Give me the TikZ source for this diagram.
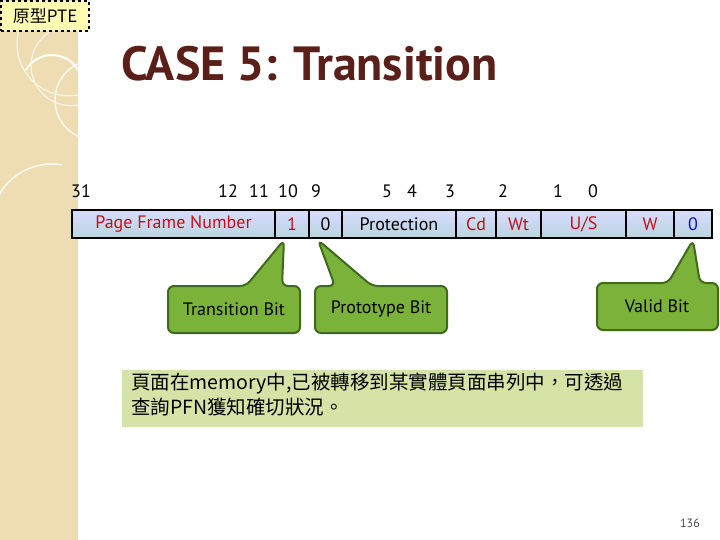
\documentclass[tikz,border=0pt]{standalone}
\usepackage{fontspec}
\setmainfont{PT Sans}
\newfontfamily\cjk{Noto Sans CJK TC}
\usetikzlibrary{shadings}
\definecolor{strip}{HTML}{EEDDB2}
\definecolor{titlec}{HTML}{5A1F18}
\definecolor{cellred}{HTML}{C0101A}
\definecolor{cellblue}{HTML}{1010C0}
\definecolor{gfill}{HTML}{7BB33A}
\definecolor{gdraw}{HTML}{3F6A1C}
\definecolor{note}{HTML}{D5E4A6}
\tikzset{
  cell/.style={draw=black,line width=1.2pt,top color=white!70!cyan!30!blue!20,bottom color=blue!25!cyan!35!gray!40,minimum height=28pt,inner sep=0pt,font=\fontsize{18}{20}\selectfont},
  call/.style={fill=gfill,draw=gdraw,line width=2pt,rounded corners=6pt},
  calltext/.style={font=\fontsize{18}{20}\selectfont,text=black},
  bitnum/.style={font=\fontsize{18}{20}\selectfont,anchor=base}
}
\begin{document}
\begin{tikzpicture}[x=1pt,y=-1pt]
\useasboundingbox (0,0) rectangle (720,540);
\fill[white] (0,0) rectangle (720,540);
\fill[strip] (0,0) rectangle (78,540);
\draw[white,line width=1.5pt,opacity=0.8] (95,100) circle (40);
\draw[white!85!strip,line width=1.5pt] (62,165) arc (-80:-200:60);
\draw[white,line width=2pt] (78,70) arc (-30:-150:30);
\draw[white!70!strip,line width=1.2pt] (78,105) arc (80:280:40);
\draw[white!70!strip,line width=1.2pt] (78,95) arc (80:280:52);
% top-left tag
\node[fill=yellow!30,draw=black,dashed,line width=2pt,minimum width=88pt,minimum height=30pt,inner sep=0pt,font=\cjk\fontsize{17}{18}\selectfont] (tag) at (45,16) {原型PTE};
% title
\node[anchor=west,font=\bfseries\fontsize{48}{52}\selectfont,text=titlec,inner sep=0pt] (title) at (121,64) {CASE 5: Transition};
% bit numbers
\node[bitnum] at (81,197) {31};
\node[bitnum] at (228,197) {12};
\node[bitnum] at (259,197) {11};
\node[bitnum] at (288,197) {10};
\node[bitnum] at (316,197) {9};
\node[bitnum] at (387,197) {5};
\node[bitnum] at (412,197) {4};
\node[bitnum] at (450,197) {3};
\node[bitnum] at (503,197) {2};
\node[bitnum] at (558,197) {1};
\node[bitnum] at (593,197) {0};
% cells
\node[cell,minimum width=203pt,text=cellred] (pfn) at (173.5,224) {Page Frame Number};
\node[cell,minimum width=34pt,text=cellred] (tb) at (292,224) {1};
\node[cell,minimum width=33pt,text=black] (pb) at (325.5,224) {0};
\node[cell,minimum width=114pt,text=black] (prot) at (399,224) {Protection};
\node[cell,minimum width=40pt,text=cellred] (cd) at (476,224) {Cd};
\node[cell,minimum width=45pt,text=cellred] (wt) at (518.5,224) {Wt};
\node[cell,minimum width=85pt,text=cellred] (us) at (583.5,224) {U/S};
\node[cell,minimum width=48pt,text=cellred] (w) at (650,224) {W};
\node[cell,minimum width=38pt,text=cellblue] (vb) at (693,224) {0};
% callouts
\coordinate (t1) at (284,240);
\coordinate (t2) at (318,240);
\coordinate (t3) at (693,240);
\draw[call] (168,286) -- (246,286) -- (t1) -- (282,286) -- (300,286) -- (300,333) -- (168,333) -- cycle;
\node[calltext] (tbl) at (234,309) {Transition Bit};
\draw[call] (315,286) -- (335,286) -- (t2) -- (372,286) -- (447,286) -- (447,333) -- (315,333) -- cycle;
\node[calltext] (pbl) at (381,309) {Prototype Bit};
\draw[call] (597,283) -- (668,283) -- (t3) -- (700,283) -- (718,283) -- (718,330) -- (597,330) -- cycle;
\node[calltext] (vbl) at (657,306) {Valid Bit};
% note
\fill[note] (122,370) rectangle (643,427);
\node[anchor=north west,align=left,font=\cjk\fontsize{19.5}{25}\selectfont,inner sep=0pt] (nt) at (131,373) {頁面在memory中,已被轉移到某實體頁面串列中，可透過\\查詢PFN獲知確切狀況。};
\node[font=\fontsize{12}{12}\selectfont,text=gray!60!black] (pg) at (690,523) {136};
\end{tikzpicture}
\end{document}
